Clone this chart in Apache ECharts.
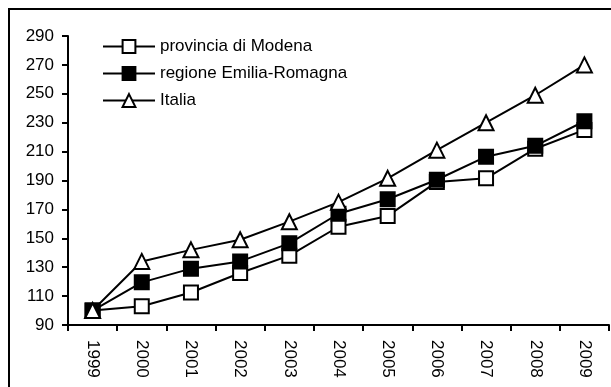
<!DOCTYPE html>
<html>
<head>
<meta charset="utf-8">
<script src="https://cdn.jsdelivr.net/npm/echarts@6/dist/echarts.min.js"></script>
<style>
  html, body { margin: 0; padding: 0; background: #fff; }
  #chart { width: 611px; height: 387px; }
</style>
</head>
<body>
<div id="chart"></div>
<script>
// Index numbers, 1999 = 100
const years = ['1999', '2000', '2001', '2002', '2003', '2004', '2005', '2006', '2007', '2008', '2009'];
const modena = [100, 103, 112.5, 126, 138, 158, 165.5, 189, 191.5, 212, 225];
const emiliaRomagna = [100, 119.5, 129, 134, 146.5, 167, 177, 190.5, 206.5, 214, 231];
const italia = [100, 134, 142, 149, 161.5, 175, 191.5, 211, 230, 249, 270];
const seriesNames = ['provincia di Modena', 'regione Emilia-Romagna', 'Italia'];

const FONT = '"Liberation Sans", Arial, sans-serif';
const FS = 17;

const chart = echarts.init(document.getElementById('chart'), null, { renderer: 'canvas' });

function lineSeries(name, data, symbol, fill, z) {
  return {
    name: name,
    type: 'line',
    data: data,
    symbol: symbol,
    symbolSize: symbol === 'triangle' ? 15 : 14,
    showAllSymbol: true,
    z: z,
    lineStyle: { color: '#000', width: 2 },
    itemStyle: { color: fill, borderColor: '#000', borderWidth: 2 },
    emphasis: { disabled: true },
    animation: false
  };
}

chart.setOption({
  backgroundColor: '#fff',
  animation: false,
  grid: { left: 68, top: 36, right: 2, bottom: 62, containLabel: false },
  graphic: [{
    type: 'rect',
    shape: { x: 9, y: 9, width: 700, height: 500 },
    style: { fill: 'none', stroke: '#000', lineWidth: 2 },
    silent: true,
    z: 0
  }],
  legend: {
    orient: 'vertical',
    left: 97,
    top: 33,
    itemWidth: 52,
    itemHeight: 16,
    itemGap: 10,
    textStyle: { color: '#000', fontSize: FS, fontFamily: FONT },
    data: seriesNames
  },
  xAxis: {
    type: 'category',
    data: years,
    boundaryGap: true,
    axisLine: { lineStyle: { color: '#000', width: 2 } },
    axisTick: { show: true, length: 6, lineStyle: { color: '#000', width: 2 } },
    axisLabel: { rotate: -90, color: '#000', fontSize: FS, fontFamily: FONT, margin: 15 },
    splitLine: { show: false }
  },
  yAxis: {
    type: 'value',
    min: 90,
    max: 290,
    interval: 20,
    axisLine: { show: true, lineStyle: { color: '#000', width: 2 } },
    axisTick: { show: true, length: 6, lineStyle: { color: '#000', width: 2 } },
    axisLabel: { color: '#000', fontSize: FS, fontFamily: FONT, margin: 14 },
    splitLine: { show: false }
  },
  series: [
    lineSeries(seriesNames[0], modena, 'rect', '#fff', 2),
    lineSeries(seriesNames[1], emiliaRomagna, 'rect', '#000', 3),
    lineSeries(seriesNames[2], italia, 'triangle', '#fff', 4)
  ]
});
</script>
</body>
</html>
